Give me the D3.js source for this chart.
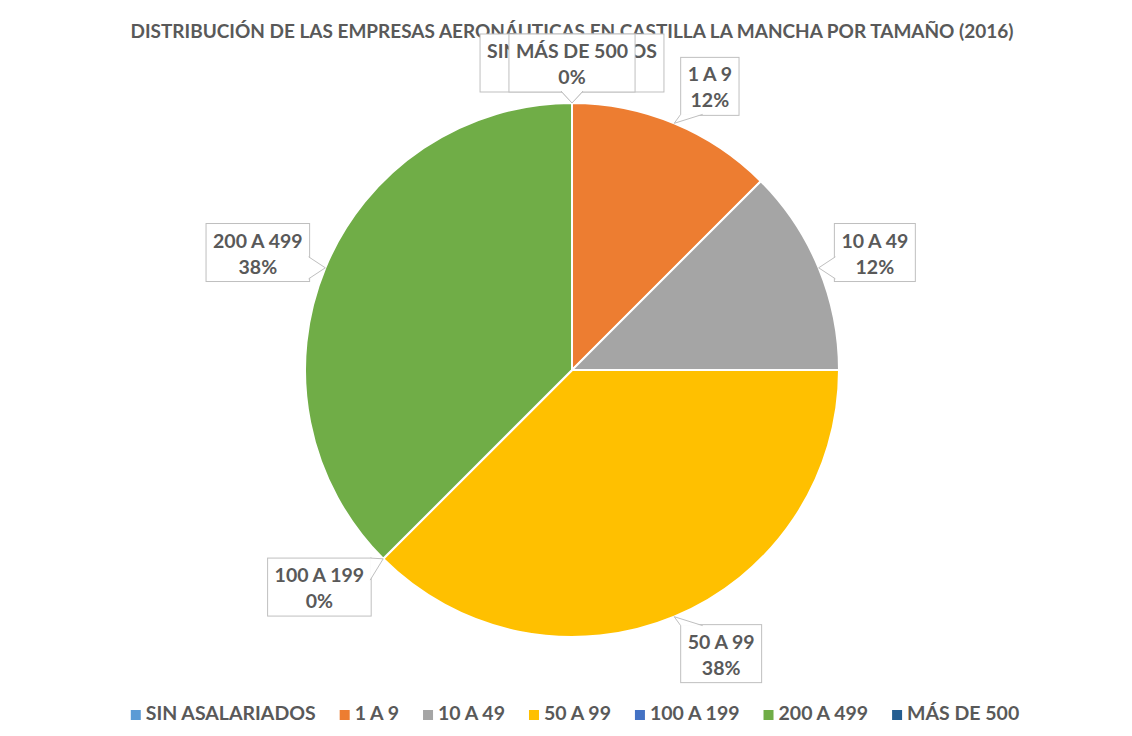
<!DOCTYPE html>
<html>
<head>
<meta charset="utf-8">
<script src="https://cdn.jsdelivr.net/npm/d3@7"></script>
<style>
  body { margin: 0; background: #fff; }
  text { font-family: Lato, 'Open Sans', sans-serif; font-weight: bold; fill: #595959; }
</style>
</head>
<body>
<div id="chart"></div>
<script>
const title = 'DISTRIBUCIÓN DE LAS EMPRESAS AERONÁUTICAS EN CASTILLA LA MANCHA POR TAMAÑO (2016)'
const categories = ['SIN ASALARIADOS', '1 A 9', '10 A 49', '50 A 99', '100 A 199', '200 A 499', 'MÁS DE 500']
const empresas = [0, 1, 1, 3, 0, 3, 0]
const percentLabels = ['0%', '12%', '12%', '38%', '0%', '38%', '0%']
const colors = ['#5B9BD5', '#ED7D31', '#A5A5A5', '#FFC000', '#4472C4', '#70AD47', '#255E91']

const width = 1132
const height = 736
const cx = 572
const cy = 370
const radius = 267
const fontSize = 19.5

const svg = d3.select('#chart')
  .append('svg')
  .attr('width', width)
  .attr('height', height)

svg.append('text')
  .attr('x', 572)
  .attr('y', 38)
  .attr('text-anchor', 'middle')
  .attr('font-size', 19)
  .attr('textLength', 883)
  .attr('lengthAdjust', 'spacingAndGlyphs')
  .text(title)

const data = categories.map((c, i) => ({ name: c, value: empresas[i], pct: percentLabels[i], color: colors[i] }))

const pie = d3.pie().sort(null).value(d => d.value)
const arc = d3.arc().innerRadius(0).outerRadius(radius)
const arcs = pie(data)

const g = svg.append('g').attr('transform', `translate(${cx},${cy})`)

g.selectAll('path.slice')
  .data(arcs)
  .enter()
  .append('path')
  .attr('class', 'slice')
  .attr('d', arc)
  .attr('fill', d => d.data.color)
  .attr('stroke', '#fff')
  .attr('stroke-width', 2)

// callout labels
const labels = g.append('g')
arcs.forEach(d => {
  const a = (d.startAngle + d.endAngle) / 2
  let s = Math.sin(a)
  const c = Math.cos(a)
  if (Math.abs(s) < 1e-6) s = 0
  const tip = [radius * s, -radius * c]

  const lg = labels.append('g')
  const t1 = lg.append('text').attr('font-size', fontSize).attr('text-anchor', 'middle').text(d.data.name)
  const t2 = lg.append('text').attr('font-size', fontSize).attr('text-anchor', 'middle').text(d.data.pct)
  const tw = Math.max(t1.node().getComputedTextLength(), t2.node().getComputedTextLength())
  const w = tw + 14
  const h = 58

  const bx = tip[0] + Math.sign(s) * w / 2 + s * 17
  const by = tip[1] - c * (h / 2 + 11)
  const x0 = bx - w / 2
  const x1 = bx + w / 2
  const y0 = by - h / 2
  const y1 = by + h / 2

  lg.insert('rect', 'text')
    .attr('x', x0).attr('y', y0)
    .attr('width', w).attr('height', h)
    .attr('fill', '#fff')
    .attr('stroke', '#BFBFBF')
    .attr('stroke-width', 1)

  // pointer
  const bw = 22
  const clamp = (v, lo, hi) => Math.max(lo, Math.min(hi, v))
  let p
  if (tip[1] > y1) {
    const m = clamp(tip[0], x0 + bw / 2, x1 - bw / 2)
    p = [[m - bw / 2, y1 - 1], tip, [m + bw / 2, y1 - 1]]
  } else if (tip[1] < y0) {
    const m = clamp(tip[0], x0 + bw / 2, x1 - bw / 2)
    p = [[m - bw / 2, y0 + 1], tip, [m + bw / 2, y0 + 1]]
  } else if (tip[0] < x0) {
    const m = clamp(tip[1], y0 + bw / 2, y1 - bw / 2)
    p = [[x0 + 1, m - bw / 2], tip, [x0 + 1, m + bw / 2]]
  } else {
    const m = clamp(tip[1], y0 + bw / 2, y1 - bw / 2)
    p = [[x1 - 1, m - bw / 2], tip, [x1 - 1, m + bw / 2]]
  }
  lg.insert('path', 'text')
    .attr('d', d3.line()(p))
    .attr('fill', '#fff')
    .attr('stroke', '#BFBFBF')
    .attr('stroke-width', 1)

  t1.attr('x', bx).attr('y', by - 5)
  t2.attr('x', bx).attr('y', by + 21)
})

// legend
const legend = svg.append('g')
const items = legend.selectAll('g')
  .data(data)
  .enter()
  .append('g')
items.append('rect')
  .attr('width', 10)
  .attr('height', 10)
  .attr('y', -10)
  .attr('fill', d => d.color)
items.append('text')
  .attr('x', 15)
  .attr('font-size', fontSize)
  .text(d => d.name)

let xPos = 0
items.each(function () {
  const tw = d3.select(this).select('text').node().getComputedTextLength()
  d3.select(this).attr('transform', `translate(${xPos},0)`)
  xPos += 15 + tw + 24
})
const total = xPos - 24
legend.attr('transform', `translate(${575 - total / 2},720)`)
</script>
</body>
</html>
